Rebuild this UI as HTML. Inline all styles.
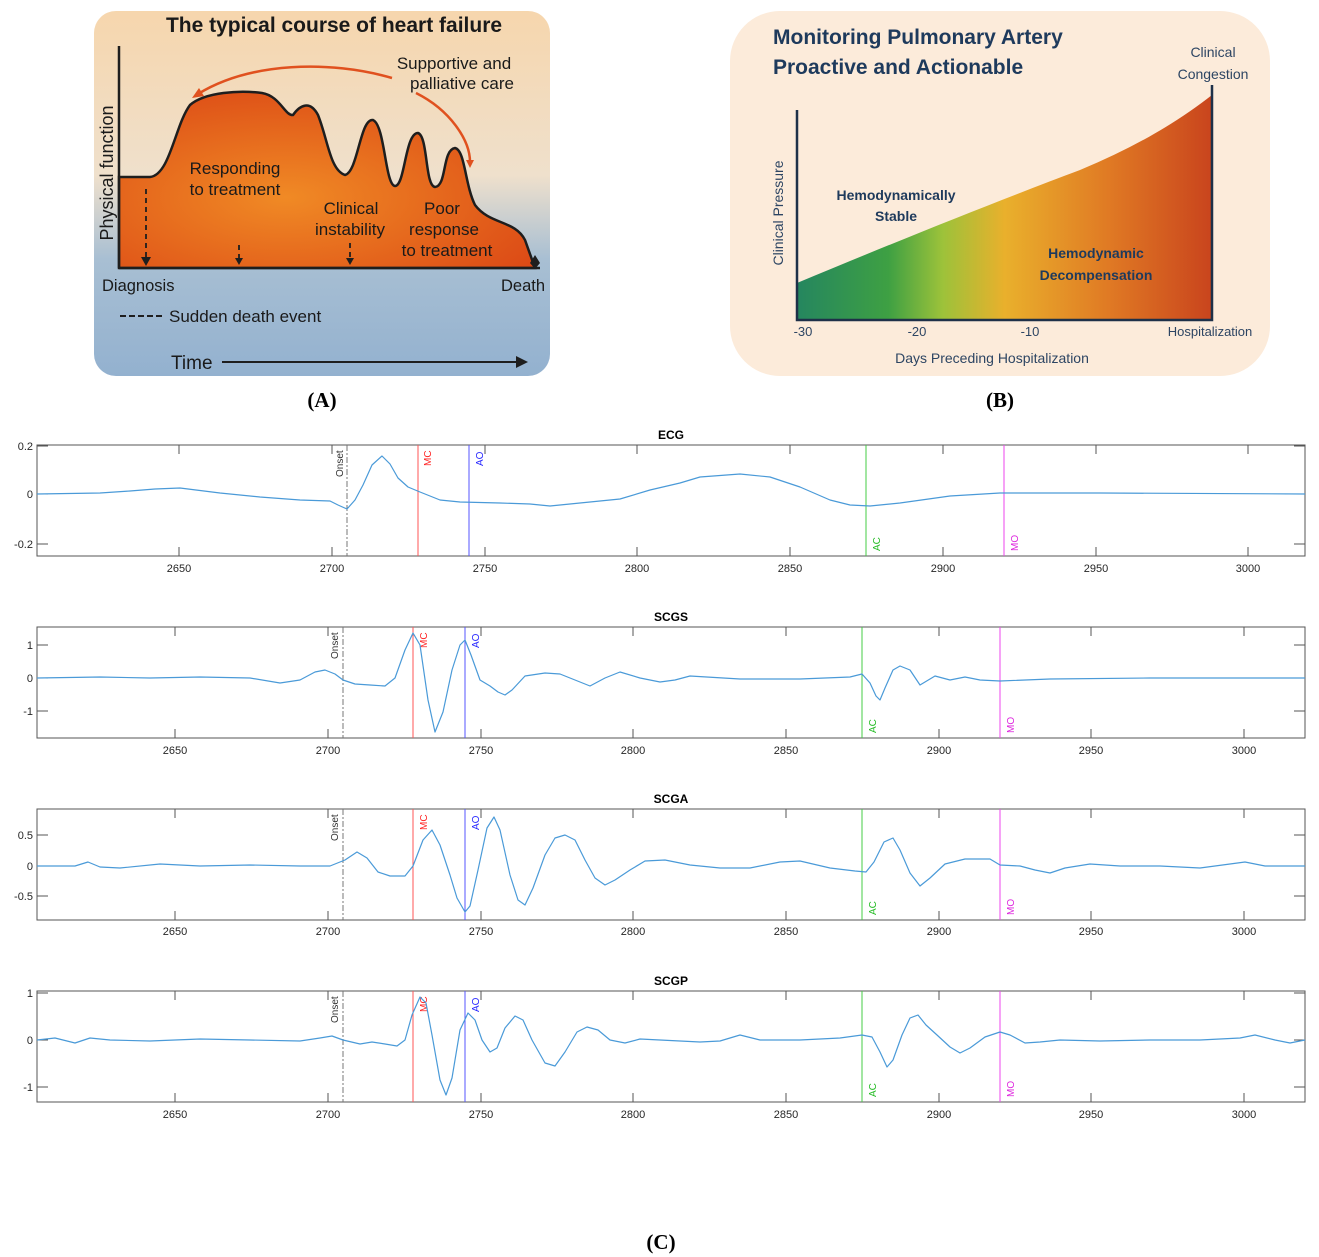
<!DOCTYPE html>
<html><head><meta charset="utf-8"><style>
body{margin:0;background:#fff;width:1319px;height:1257px;overflow:hidden}
svg{display:block}
</style></head><body>
<svg width="1319" height="1257" viewBox="0 0 1319 1257" xmlns="http://www.w3.org/2000/svg" font-family="Liberation Sans, sans-serif">
<defs>
<linearGradient id="bgA" x1="0" y1="0" x2="0" y2="1">
<stop offset="0" stop-color="#f6d6ad"/><stop offset="0.45" stop-color="#efe0cc"/><stop offset="0.68" stop-color="#a8bfd3"/><stop offset="1" stop-color="#93b1cf"/>
</linearGradient>
<radialGradient id="fillA" cx="0.4" cy="0.6" r="0.7">
<stop offset="0" stop-color="#f08a25"/><stop offset="1" stop-color="#dc4a16"/>
</radialGradient>
<linearGradient id="fillB" x1="0" y1="0" x2="1" y2="0">
<stop offset="0" stop-color="#25865f"/><stop offset="0.22" stop-color="#3ea043"/><stop offset="0.35" stop-color="#9cc23a"/><stop offset="0.5" stop-color="#e9b02c"/><stop offset="0.75" stop-color="#e07a24"/><stop offset="1" stop-color="#c9441d"/>
</linearGradient>
</defs>

<!-- Panel A -->
<rect x="94" y="11" width="456" height="365" rx="22" fill="url(#bgA)"/>
<text x="334" y="32" font-size="21" font-weight="bold" text-anchor="middle" fill="#1a1a1a">The typical course of heart failure</text>
<path d="M119,177 L150,177 C170,175 175,125 190,105 C205,92 240,90 262,93 C280,96 285,116 293,115 C300,105 310,100 318,115 C328,140 330,170 345,175 C358,172 360,118 373,120 C385,125 385,185 395,186 C405,186 405,133 418,133 C428,136 425,186 435,187 C447,186 442,150 455,148 C465,150 465,185 475,205 C490,225 515,220 525,240 L535,268 L119,268 Z" fill="url(#fillA)" stroke="#1e1e1e" stroke-width="2.5"/>
<line x1="119" y1="46" x2="119" y2="268" stroke="#1e1e1e" stroke-width="2.5"/>
<line x1="119" y1="268" x2="540" y2="268" stroke="#1e1e1e" stroke-width="2.5"/>
<path d="M535,255 l-5,8 5,6 5,-6z" fill="#1e1e1e"/>
<text x="113" y="173" font-size="18" fill="#1a1a1a" text-anchor="middle" transform="rotate(-90 113 173)">Physical function</text>
<path d="M392,78 C330,60 250,62 198,94" fill="none" stroke="#e0511f" stroke-width="2.5"/>
<path d="M192,98 l12,-2 -5,-8z" fill="#e0511f"/>
<path d="M416,93 C450,110 470,140 470,162" fill="none" stroke="#e0511f" stroke-width="2.5"/>
<path d="M470,168 l-4,-8 8,0z" fill="#e0511f"/>
<text x="454" y="69" font-size="17" text-anchor="middle" fill="#1a1a1a">Supportive and</text>
<text x="462" y="89" font-size="17" text-anchor="middle" fill="#1a1a1a">palliative care</text>
<text x="235" y="174" font-size="17" text-anchor="middle" fill="#1a1a1a">Responding</text>
<text x="235" y="195" font-size="17" text-anchor="middle" fill="#1a1a1a">to treatment</text>
<text x="351" y="214" font-size="17" text-anchor="middle" fill="#1a1a1a">Clinical</text>
<text x="350" y="235" font-size="17" text-anchor="middle" fill="#1a1a1a">instability</text>
<text x="442" y="214" font-size="17" text-anchor="middle" fill="#1a1a1a">Poor</text>
<text x="444" y="235" font-size="17" text-anchor="middle" fill="#1a1a1a">response</text>
<text x="447" y="256" font-size="17" text-anchor="middle" fill="#1a1a1a">to treatment</text>
<g stroke="#1e1e1e" stroke-width="1.8" stroke-dasharray="5,4">
<line x1="146" y1="189" x2="146" y2="258"/><line x1="239" y1="245" x2="239" y2="258"/><line x1="350" y1="243" x2="350" y2="258"/>
</g>
<g fill="#1e1e1e"><path d="M141,257h10l-5,9z"/><path d="M235,258h8l-4,7z"/><path d="M346,258h8l-4,7z"/></g>
<text x="102" y="291" font-size="16.5" fill="#1a1a1a">Diagnosis</text>
<text x="501" y="291" font-size="16.5" fill="#1a1a1a">Death</text>
<line x1="120" y1="316" x2="162" y2="316" stroke="#1e1e1e" stroke-width="2" stroke-dasharray="6,3"/>
<text x="169" y="322" font-size="17" fill="#1a1a1a">Sudden death event</text>
<text x="171" y="369" font-size="19" fill="#1a1a1a">Time</text>
<line x1="222" y1="362" x2="518" y2="362" stroke="#1e1e1e" stroke-width="2"/>
<path d="M528,362 l-12,-6 0,12z" fill="#1e1e1e"/>
<text x="322" y="407" font-size="21" font-weight="bold" text-anchor="middle" font-family="Liberation Serif, serif">(A)</text>

<!-- Panel B -->
<rect x="730" y="11" width="540" height="365" rx="50" fill="#fcebda"/>
<text x="773" y="44" font-size="21" font-weight="bold" fill="#1e3a5c">Monitoring Pulmonary Artery</text>
<text x="773" y="74" font-size="21" font-weight="bold" fill="#1e3a5c">Proactive and Actionable</text>
<text x="1213" y="57" font-size="14" text-anchor="middle" fill="#2d4563">Clinical</text>
<text x="1213" y="79" font-size="14" text-anchor="middle" fill="#2d4563">Congestion</text>
<path d="M797,283 C900,240 1000,200 1080,170 C1140,145 1180,120 1212,95 L1212,320 L797,320 Z" fill="url(#fillB)"/>
<g stroke="#1e3048" stroke-width="2.5" fill="none"><path d="M797,110 V320 H1212 V85"/></g>
<text x="783" y="213" font-size="14" text-anchor="middle" fill="#2d4563" transform="rotate(-90 783 213)">Clinical Pressure</text>
<text x="896" y="200" font-size="14" font-weight="bold" text-anchor="middle" fill="#1e3a5c">Hemodynamically</text>
<text x="896" y="221" font-size="14" font-weight="bold" text-anchor="middle" fill="#1e3a5c">Stable</text>
<text x="1096" y="258" font-size="14" font-weight="bold" text-anchor="middle" fill="#1e3a5c">Hemodynamic</text>
<text x="1096" y="280" font-size="14" font-weight="bold" text-anchor="middle" fill="#1e3a5c">Decompensation</text>
<g font-size="13" fill="#2d4563" text-anchor="middle">
<text x="803" y="336">-30</text><text x="917" y="336">-20</text><text x="1030" y="336">-10</text><text x="1210" y="336">Hospitalization</text>
<text x="992" y="363" font-size="14">Days Preceding Hospitalization</text>
</g>
<text x="1000" y="407" font-size="21" font-weight="bold" text-anchor="middle" font-family="Liberation Serif, serif">(B)</text>

<!-- Panel C plots -->
<g font-size="11" fill="#262626">
<!-- ECG -->
<text x="671" y="439" font-weight="bold" font-size="12" text-anchor="middle" fill="#000">ECG</text>
<rect x="37" y="445" width="1268" height="111" fill="none" stroke="#555" stroke-width="1"/>
<g stroke="#555"><path d="M179,445v9M332,445v9M485,445v9M637,445v9M790,445v9M943,445v9M1096,445v9M1248,445v9M179,556v-9M332,556v-9M485,556v-9M637,556v-9M790,556v-9M943,556v-9M1096,556v-9M1248,556v-9M37,446h11M37,494h11M37,544h11M1305,446h-11M1305,494h-11M1305,544h-11"/></g>
<g text-anchor="middle"><text x="179" y="572">2650</text><text x="332" y="572">2700</text><text x="485" y="572">2750</text><text x="637" y="572">2800</text><text x="790" y="572">2850</text><text x="943" y="572">2900</text><text x="1096" y="572">2950</text><text x="1248" y="572">3000</text></g>
<g text-anchor="end"><text x="33" y="450">0.2</text><text x="33" y="498">0</text><text x="33" y="548">-0.2</text></g>
<line x1="347" y1="445" x2="347" y2="556" stroke="#777" stroke-dasharray="6,2,2,2"/>
<line x1="418" y1="445" x2="418" y2="556" stroke="#f55"/><line x1="469" y1="445" x2="469" y2="556" stroke="#55f"/>
<line x1="866" y1="445" x2="866" y2="556" stroke="#4c4"/><line x1="1004" y1="445" x2="1004" y2="556" stroke="#e4e"/>
<text transform="translate(343,477) rotate(-90)" font-size="10" fill="#333">Onset</text>
<text transform="translate(431,466) rotate(-90)" font-size="10" fill="#f22">MC</text>
<text transform="translate(483,466) rotate(-90)" font-size="10" fill="#22f">AO</text>
<text transform="translate(880,551) rotate(-90)" font-size="10" fill="#2b2">AC</text>
<text transform="translate(1018,551) rotate(-90)" font-size="10" fill="#d2d">MO</text>
<polyline fill="none" stroke="#4a9ad8" stroke-width="1.2" stroke-linejoin="round" points="37,494 100,493 130,491 155,489 180,488 220,493 260,497 300,500 330,501 338,505 347,509 355,500 363,485 372,465 382,456 390,464 398,478 408,487 420,492 440,500 460,502 500,503 530,504 550,506 580,503 620,499 650,490 680,483 700,477 740,474 770,477 800,487 830,500 850,505 870,506 900,503 950,496 1000,493 1100,493 1305,494"/>

<!-- SCGS -->
<text x="671" y="621" font-weight="bold" font-size="12" text-anchor="middle" fill="#000">SCGS</text>
<rect x="37" y="627" width="1268" height="111" fill="none" stroke="#555"/>
<g stroke="#555"><path d="M175,627v9M328,627v9M481,627v9M633,627v9M786,627v9M939,627v9M1091,627v9M1244,627v9M175,738v-9M328,738v-9M481,738v-9M633,738v-9M786,738v-9M939,738v-9M1091,738v-9M1244,738v-9M37,645h11M37,678h11M37,711h11M1305,645h-11M1305,678h-11M1305,711h-11"/></g>
<g text-anchor="middle"><text x="175" y="754">2650</text><text x="328" y="754">2700</text><text x="481" y="754">2750</text><text x="633" y="754">2800</text><text x="786" y="754">2850</text><text x="939" y="754">2900</text><text x="1091" y="754">2950</text><text x="1244" y="754">3000</text></g>
<g text-anchor="end"><text x="33" y="649">1</text><text x="33" y="682">0</text><text x="33" y="715">-1</text></g>
<line x1="343" y1="627" x2="343" y2="738" stroke="#777" stroke-dasharray="6,2,2,2"/>
<line x1="413" y1="627" x2="413" y2="738" stroke="#f55"/><line x1="465" y1="627" x2="465" y2="738" stroke="#55f"/>
<line x1="862" y1="627" x2="862" y2="738" stroke="#4c4"/><line x1="1000" y1="627" x2="1000" y2="738" stroke="#e4e"/>
<text transform="translate(338,659) rotate(-90)" font-size="10" fill="#333">Onset</text>
<text transform="translate(427,648) rotate(-90)" font-size="10" fill="#f22">MC</text>
<text transform="translate(479,648) rotate(-90)" font-size="10" fill="#22f">AO</text>
<text transform="translate(876,733) rotate(-90)" font-size="10" fill="#2b2">AC</text>
<text transform="translate(1014,733) rotate(-90)" font-size="10" fill="#d2d">MO</text>
<polyline fill="none" stroke="#4a9ad8" stroke-width="1.2" stroke-linejoin="round" points="37,678 100,677 150,678 200,677 250,678 280,683 300,680 315,672 325,670 335,674 343,680 355,684 370,685 385,686 395,678 405,650 413,633 420,645 428,700 435,732 443,712 452,670 460,645 465,640 471,655 480,680 490,686 498,692 505,695 512,690 525,676 545,673 560,674 575,680 590,686 605,678 620,672 640,678 660,682 675,680 690,676 740,679 800,679 850,677 862,674 870,683 876,696 880,700 885,688 893,670 900,666 910,670 920,685 935,676 950,680 965,677 980,680 1000,681 1050,679 1150,678 1305,678"/>

<!-- SCGA -->
<text x="671" y="803" font-weight="bold" font-size="12" text-anchor="middle" fill="#000">SCGA</text>
<rect x="37" y="809" width="1268" height="111" fill="none" stroke="#555"/>
<g stroke="#555"><path d="M175,809v9M328,809v9M481,809v9M633,809v9M786,809v9M939,809v9M1091,809v9M1244,809v9M175,920v-9M328,920v-9M481,920v-9M633,920v-9M786,920v-9M939,920v-9M1091,920v-9M1244,920v-9M37,835h11M37,866h11M37,896h11M1305,835h-11M1305,866h-11M1305,896h-11"/></g>
<g text-anchor="middle"><text x="175" y="935">2650</text><text x="328" y="935">2700</text><text x="481" y="935">2750</text><text x="633" y="935">2800</text><text x="786" y="935">2850</text><text x="939" y="935">2900</text><text x="1091" y="935">2950</text><text x="1244" y="935">3000</text></g>
<g text-anchor="end"><text x="33" y="839">0.5</text><text x="33" y="870">0</text><text x="33" y="900">-0.5</text></g>
<line x1="343" y1="809" x2="343" y2="920" stroke="#777" stroke-dasharray="6,2,2,2"/>
<line x1="413" y1="809" x2="413" y2="920" stroke="#f55"/><line x1="465" y1="809" x2="465" y2="920" stroke="#55f"/>
<line x1="862" y1="809" x2="862" y2="920" stroke="#4c4"/><line x1="1000" y1="809" x2="1000" y2="920" stroke="#e4e"/>
<text transform="translate(338,841) rotate(-90)" font-size="10" fill="#333">Onset</text>
<text transform="translate(427,830) rotate(-90)" font-size="10" fill="#f22">MC</text>
<text transform="translate(479,830) rotate(-90)" font-size="10" fill="#22f">AO</text>
<text transform="translate(876,915) rotate(-90)" font-size="10" fill="#2b2">AC</text>
<text transform="translate(1014,915) rotate(-90)" font-size="10" fill="#d2d">MO</text>
<polyline fill="none" stroke="#4a9ad8" stroke-width="1.2" stroke-linejoin="round" points="37,866 75,866 88,862 100,867 120,868 160,864 200,866 250,865 300,866 330,866 345,860 357,852 367,858 378,872 390,876 405,876 413,866 423,840 432,830 440,845 450,875 457,898 465,912 470,906 478,870 487,828 494,817 500,830 510,875 518,900 525,905 533,888 545,855 555,838 565,835 575,840 585,860 595,878 605,885 615,880 630,870 645,861 665,860 690,865 720,868 750,868 780,862 800,861 830,868 855,871 866,872 874,862 884,842 893,838 900,850 910,873 920,886 930,878 945,864 965,859 990,859 1000,865 1020,866 1035,870 1050,873 1065,868 1090,864 1120,866 1160,866 1200,868 1230,864 1245,862 1265,866 1305,866"/>

<!-- SCGP -->
<text x="671" y="985" font-weight="bold" font-size="12" text-anchor="middle" fill="#000">SCGP</text>
<rect x="37" y="991" width="1268" height="111" fill="none" stroke="#555"/>
<g stroke="#555"><path d="M175,991v9M328,991v9M481,991v9M633,991v9M786,991v9M939,991v9M1091,991v9M1244,991v9M175,1102v-9M328,1102v-9M481,1102v-9M633,1102v-9M786,1102v-9M939,1102v-9M1091,1102v-9M1244,1102v-9M37,993h11M37,1040h11M37,1087h11M1305,993h-11M1305,1040h-11M1305,1087h-11"/></g>
<g text-anchor="middle"><text x="175" y="1118">2650</text><text x="328" y="1118">2700</text><text x="481" y="1118">2750</text><text x="633" y="1118">2800</text><text x="786" y="1118">2850</text><text x="939" y="1118">2900</text><text x="1091" y="1118">2950</text><text x="1244" y="1118">3000</text></g>
<g text-anchor="end"><text x="33" y="997">1</text><text x="33" y="1044">0</text><text x="33" y="1091">-1</text></g>
<line x1="343" y1="991" x2="343" y2="1102" stroke="#777" stroke-dasharray="6,2,2,2"/>
<line x1="413" y1="991" x2="413" y2="1102" stroke="#f55"/><line x1="465" y1="991" x2="465" y2="1102" stroke="#55f"/>
<line x1="862" y1="991" x2="862" y2="1102" stroke="#4c4"/><line x1="1000" y1="991" x2="1000" y2="1102" stroke="#e4e"/>
<text transform="translate(338,1023) rotate(-90)" font-size="10" fill="#333">Onset</text>
<text transform="translate(427,1012) rotate(-90)" font-size="10" fill="#f22">MC</text>
<text transform="translate(479,1012) rotate(-90)" font-size="10" fill="#22f">AO</text>
<text transform="translate(876,1097) rotate(-90)" font-size="10" fill="#2b2">AC</text>
<text transform="translate(1014,1097) rotate(-90)" font-size="10" fill="#d2d">MO</text>
<polyline fill="none" stroke="#4a9ad8" stroke-width="1.2" stroke-linejoin="round" points="37,1040 55,1038 75,1043 90,1038 110,1040 150,1041 200,1039 250,1040 300,1041 320,1038 332,1036 343,1040 360,1044 372,1042 385,1044 397,1046 405,1040 412,1015 420,997 426,1003 432,1035 440,1080 446,1095 452,1078 460,1030 468,1013 475,1020 482,1040 490,1052 497,1048 505,1028 515,1016 523,1020 532,1040 545,1063 555,1066 565,1052 577,1032 587,1027 598,1030 610,1040 625,1043 640,1039 660,1040 700,1042 720,1041 740,1035 760,1040 800,1040 840,1038 862,1035 872,1037 880,1052 887,1067 893,1060 902,1035 910,1018 918,1015 926,1025 937,1035 950,1047 960,1053 970,1048 985,1037 1000,1032 1010,1035 1025,1043 1040,1042 1060,1040 1100,1041 1150,1040 1200,1040 1240,1038 1255,1035 1275,1040 1290,1043 1305,1040"/>
</g>
<text x="661" y="1249" font-size="21" font-weight="bold" text-anchor="middle" font-family="Liberation Serif, serif">(C)</text>
</svg>
</body></html>
